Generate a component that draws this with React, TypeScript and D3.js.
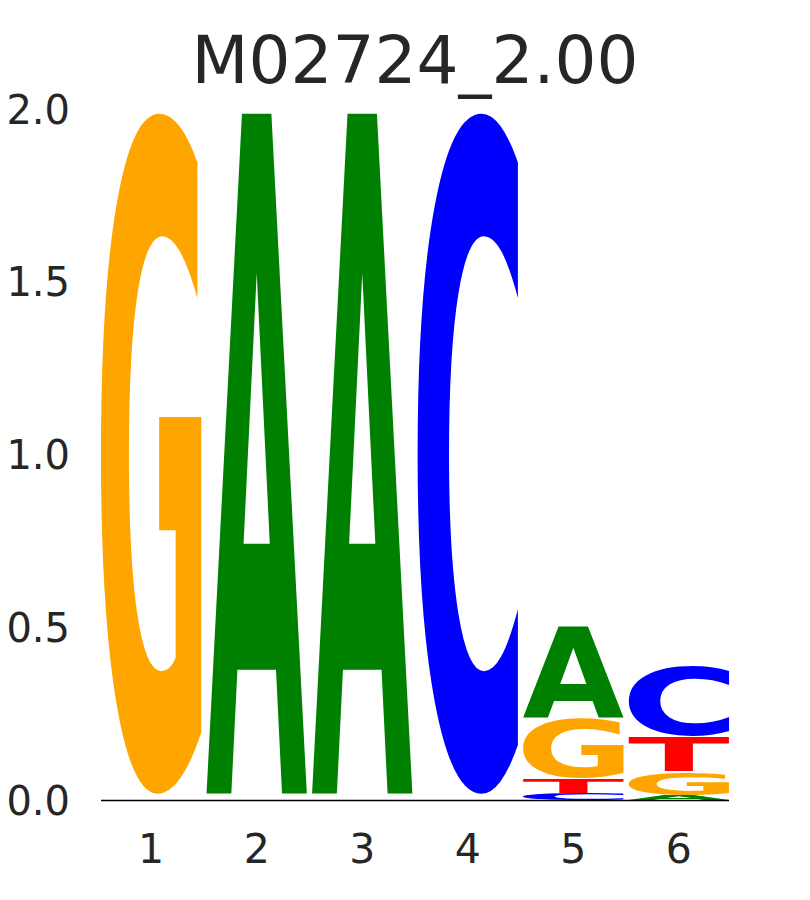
import React, { useMemo } from "react";
import * as d3 from "d3";

const title = "M02724_2.00";
const positions = [1, 2, 3, 4, 5, 6];
const letters = ["A", "C", "G", "T"];
const heightA = [0, 2.0, 2.0, 0, 0.268, 0.014];
const heightC = [0, 0, 0, 2.0, 0.02, 0.205];
const heightG = [2.0, 0, 0, 0, 0.174, 0.069];
const heightT = [0, 0, 0, 0, 0.043, 0.1];
const yTicks = [0, 0.5, 1.0, 1.5, 2.0];
const colors: Record<string, string> = { A: "#008000", C: "#0000ff", G: "#ffa500", T: "#ff0000" };

const W = 810;
const H = 900;
const GLYPH_FONT = "DejaVu Sans";
const LETTER_WIDTH = 0.95;

function measureGlyph(ch: string) {
  const fs = 1000;
  try {
    const c = document.createElement("canvas");
    c.width = 1400;
    c.height = 1400;
    const ctx = c.getContext("2d")!;
    ctx.font = `bold ${fs}px "${GLYPH_FONT}"`;
    ctx.textBaseline = "alphabetic";
    ctx.fillStyle = "#000";
    const ox = 200;
    const oy = 1100;
    ctx.fillText(ch, ox, oy);
    const data = ctx.getImageData(0, 0, c.width, c.height).data;
    let minX = Infinity, maxX = -Infinity, minY = Infinity, maxY = -Infinity;
    for (let yy = 0; yy < c.height; yy++) {
      for (let xx = 0; xx < c.width; xx++) {
        if (data[(yy * c.width + xx) * 4 + 3] > 127) {
          if (xx < minX) minX = xx;
          if (xx > maxX) maxX = xx;
          if (yy < minY) minY = yy;
          if (yy > maxY) maxY = yy;
        }
      }
    }
    if (!isFinite(minX)) throw new Error("empty");
    return {
      left: minX - ox,
      right: maxX + 1 - ox,
      top: minY - oy,
      bottom: maxY + 1 - oy,
      fs,
    };
  } catch (e) {
    const c = document.createElement("canvas");
    const ctx = c.getContext("2d")!;
    ctx.font = `bold ${fs}px "${GLYPH_FONT}"`;
    const m = ctx.measureText(ch);
    return {
      left: -m.actualBoundingBoxLeft,
      right: m.actualBoundingBoxRight,
      top: -m.actualBoundingBoxAscent,
      bottom: m.actualBoundingBoxDescent,
      fs,
    };
  }
}

export default function App() {
  const x = d3
    .scaleLinear()
    .domain([1 - LETTER_WIDTH / 2, 6 + LETTER_WIDTH / 2])
    .range([101, 729]);
  const y = d3.scaleLinear().domain([0, 2]).range([800.5, 109]);

  const metrics = useMemo(() => {
    const m: Record<string, ReturnType<typeof measureGlyph>> = {};
    letters.forEach((l) => (m[l] = measureGlyph(l)));
    return m;
  }, []);

  const table: Record<string, number[]> = { A: heightA, C: heightC, G: heightG, T: heightT };

  const glyphs: React.ReactNode[] = [];
  positions.forEach((p, i) => {
    const stack = letters
      .map((l) => ({ l, h: table[l][i] }))
      .filter((d) => d.h > 0)
      .sort((a, b) => a.h - b.h);
    let floor = 0;
    stack.forEach((d) => {
      const ceil = floor + d.h;
      const g0 = floor + d.h * 0.01;
      const g1 = ceil - d.h * 0.007;
      const x0 = x(p - LETTER_WIDTH / 2);
      const x1 = x(p + LETTER_WIDTH / 2);
      const yTop = y(g1);
      const yBot = y(g0);
      const m = metrics[d.l];
      const sx = (x1 - x0) / (m.right - m.left);
      const sy = (yBot - yTop) / (m.bottom - m.top);
      const tx = x0 - m.left * sx;
      const ty = yTop - m.top * sy;
      glyphs.push(
        <text
          key={`${p}-${d.l}`}
          transform={`translate(${tx},${ty}) scale(${sx},${sy})`}
          fontFamily={GLYPH_FONT}
          fontWeight="bold"
          fontSize={m.fs}
          fill={colors[d.l]}
        >
          {d.l}
        </text>
      );
      floor = ceil;
    });
  });

  return (
    <svg
      width={W}
      height={H}
      style={{ position: "absolute", left: 0, top: 0, background: "#fff" }}
    >
      <rect width={W} height={H} fill="#fff" />
      <text
        x={(x.range()[0] + x.range()[1]) / 2}
        y={83}
        textAnchor="middle"
        fontFamily="DejaVu Sans"
        fontSize={66}
        fill="#262626"
      >
        {title}
      </text>
      {glyphs}
      <line x1={x.range()[0]} x2={x.range()[1]} y1={y(0)} y2={y(0)} stroke="#000" strokeWidth={1.5} />
      {yTicks.map((t) => (
        <text
          key={t}
          x={70}
          y={y(t) + 14.6}
          textAnchor="end"
          fontFamily="DejaVu Sans"
          fontSize={40}
          fill="#262626"
        >
          {t.toFixed(1)}
        </text>
      ))}
      {positions.map((p) => (
        <text
          key={p}
          x={x(p)}
          y={863}
          textAnchor="middle"
          fontFamily="DejaVu Sans"
          fontSize={41}
          fill="#262626"
        >
          {p}
        </text>
      ))}
    </svg>
  );
}
